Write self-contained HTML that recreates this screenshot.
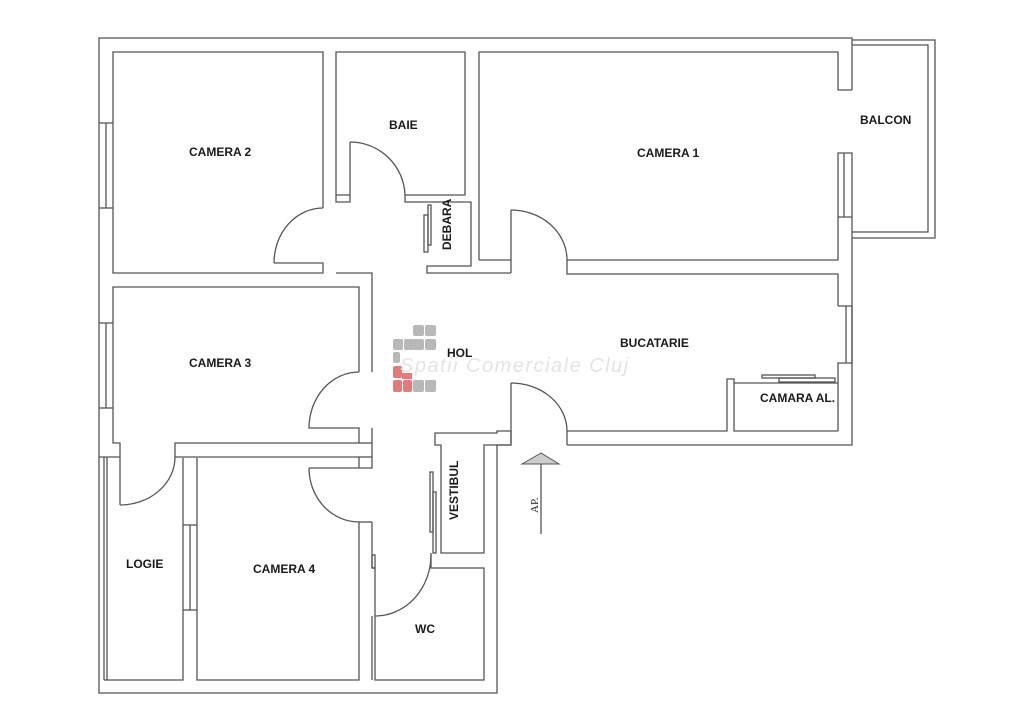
<!DOCTYPE html>
<html><head><meta charset="utf-8"><style>
html,body{margin:0;padding:0;background:#fff;}
svg{display:block;}
text{font-family:"Liberation Sans",Arial,sans-serif;font-weight:bold;font-size:12px;fill:#1a1a1a;}
</style></head><body>
<svg width="1025" height="720" viewBox="0 0 1025 720" xmlns="http://www.w3.org/2000/svg">
<g fill="none" stroke="#555" stroke-width="1.3">
<polyline points="852,90 852,38 99,38 99,693 497,693 497,445 511,445"/>
<polyline points="567,445 852,445 852,217"/>
<polyline points="852,40 935,40 935,238 852,238"/>
<polyline points="852,45 928,45 928,232 852,232"/>
<polyline points="323,208 323,52 113,52 113,273 323,273 323,263 274,263"/>
<path d="M274,263 A49,55 0 0 1 323,208"/>
<line x1="99" y1="123" x2="113" y2="123"/><line x1="99" y1="208" x2="113" y2="208"/><line x1="106" y1="123" x2="106" y2="208"/>
<polyline points="350,195 336,195 336,52 465,52 465,195 405,195"/>
<polyline points="336,195 336,202 350,202 350,142"/>
<path d="M350,142 A55,55 0 0 1 405,195 L405,202 L427,202"/>
<polyline points="427,202 471,202 471,266 427,266 427,273 511,273"/>
<rect x="424" y="215" width="4" height="37"/><rect x="428" y="205" width="3" height="40"/>
<polyline points="479,260 479,52 838,52 838,90 852,90"/>
<polyline points="511,260 479,260"/>
<polyline points="511,273 511,210"/>
<path d="M511,210 A56,50 0 0 1 567,260 L567,274 L838,274 L838,306"/>
<polyline points="567,260 838,260 838,153 852,153 852,217 838,217 838,260"/>
<line x1="844" y1="153" x2="844" y2="217"/>
<polyline points="838,306 852,306 852,363 838,363 838,431"/>
<line x1="846" y1="306" x2="846" y2="363"/>
<polyline points="567,431 727,431 727,379 734,379 734,431 838,431"/>
<line x1="734" y1="383" x2="838" y2="383"/>
<rect x="762" y="375" width="53" height="3"/><rect x="779" y="378" width="56" height="4"/>
<polyline points="511,445 511,383"/>
<path d="M511,383 A56,48 0 0 1 567,431 L567,445"/>
<polyline points="497,445 511,445 511,431 497,431 497,433 435,433 435,445 441,445 441,553 484,553 484,445 497,445"/>
<polyline points="336,273 372,273 372,372"/>
<polyline points="359,372 359,287 113,287 113,443 120,443 120,505"/>
<path d="M359,372 A50,56 0 0 0 309,428 L359,428 L359,443 L175,443 L175,457"/>
<path d="M120,505 A55,48 0 0 0 175,457 L359,457 L359,468"/>
<polyline points="372,428 372,468 359,468"/>
<line x1="359" y1="443" x2="372" y2="443"/><line x1="359" y1="457" x2="372" y2="457"/>
<line x1="99" y1="323" x2="113" y2="323"/><line x1="99" y1="408" x2="113" y2="408"/><line x1="106" y1="323" x2="106" y2="408"/>
<path d="M309,468 L359,468 M309,468 A50,54 0 0 0 359,522 L359,680 L197,680 L197,458"/>
<polyline points="372,522 372,568"/>
<line x1="359" y1="522" x2="372" y2="522"/>
<polyline points="99,457 120,457"/>
<polyline points="104,457 104,680"/><polyline points="107,457 107,680"/>
<polyline points="104,680 183,680 183,458"/>
<line x1="183" y1="525" x2="197" y2="525"/><line x1="183" y1="610" x2="197" y2="610"/><line x1="190" y1="525" x2="190" y2="610"/>
<polyline points="372,568 375,568 375,680 484,680 484,568 431,568 431,553"/>
<path d="M375,616 A56,61 0 0 0 431,555"/>
<rect x="372" y="555" width="3" height="13"/>
<line x1="372" y1="680" x2="372" y2="616"/>
<rect x="430" y="472" width="3" height="60"/><rect x="433" y="492" width="3" height="61"/>
<line x1="541" y1="464" x2="541" y2="534"/>
</g>
<polygon points="541,453 522,464 559,464" fill="#ccc" stroke="#555" stroke-width="1"/>
<g fill="#b8b8b8">
<rect x="413" y="325" width="11" height="11" rx="2"/><rect x="425" y="325" width="11" height="11" rx="2"/>
<rect x="393" y="339" width="10" height="11" rx="2"/><rect x="404" y="339" width="10" height="11" rx="2"/><rect x="413" y="339" width="11" height="11" rx="2"/><rect x="425" y="339" width="11" height="11" rx="2"/>
<rect x="393" y="352" width="7" height="11" rx="2"/>
<rect x="413" y="380" width="11" height="12" rx="2"/><rect x="425" y="380" width="11" height="12" rx="2"/>
</g>
<g fill="#e57a7a">
<rect x="393" y="366" width="9" height="12" rx="2"/><rect x="402" y="373" width="10" height="6"/>
<rect x="393" y="380" width="9" height="12" rx="2"/><rect x="403" y="380" width="9" height="12" rx="2"/>
</g>
<text x="400" y="372" style="font-size:20px;font-weight:normal;font-style:italic;fill:#e4e4e4;letter-spacing:1.5px">Spatii Comerciale Cluj</text>
<text x="189" y="156">CAMERA 2</text>
<text x="389" y="129">BAIE</text>
<text x="637" y="157">CAMERA 1</text>
<text x="860" y="124">BALCON</text>
<text x="189" y="367">CAMERA 3</text>
<text x="447" y="357">HOL</text>
<text x="620" y="347">BUCATARIE</text>
<text x="760" y="402">CAMARA AL.</text>
<text x="126" y="568">LOGIE</text>
<text x="253" y="573">CAMERA 4</text>
<text x="415" y="633">WC</text>
<text transform="translate(451,250) rotate(-90)">DEBARA</text>
<text transform="translate(458,520) rotate(-90)">VESTIBUL</text>
<text transform="translate(538,513) rotate(-90)" style="font-family:'Liberation Serif',serif;font-weight:normal;font-size:11px">AP.</text>
</svg>
</body></html>
